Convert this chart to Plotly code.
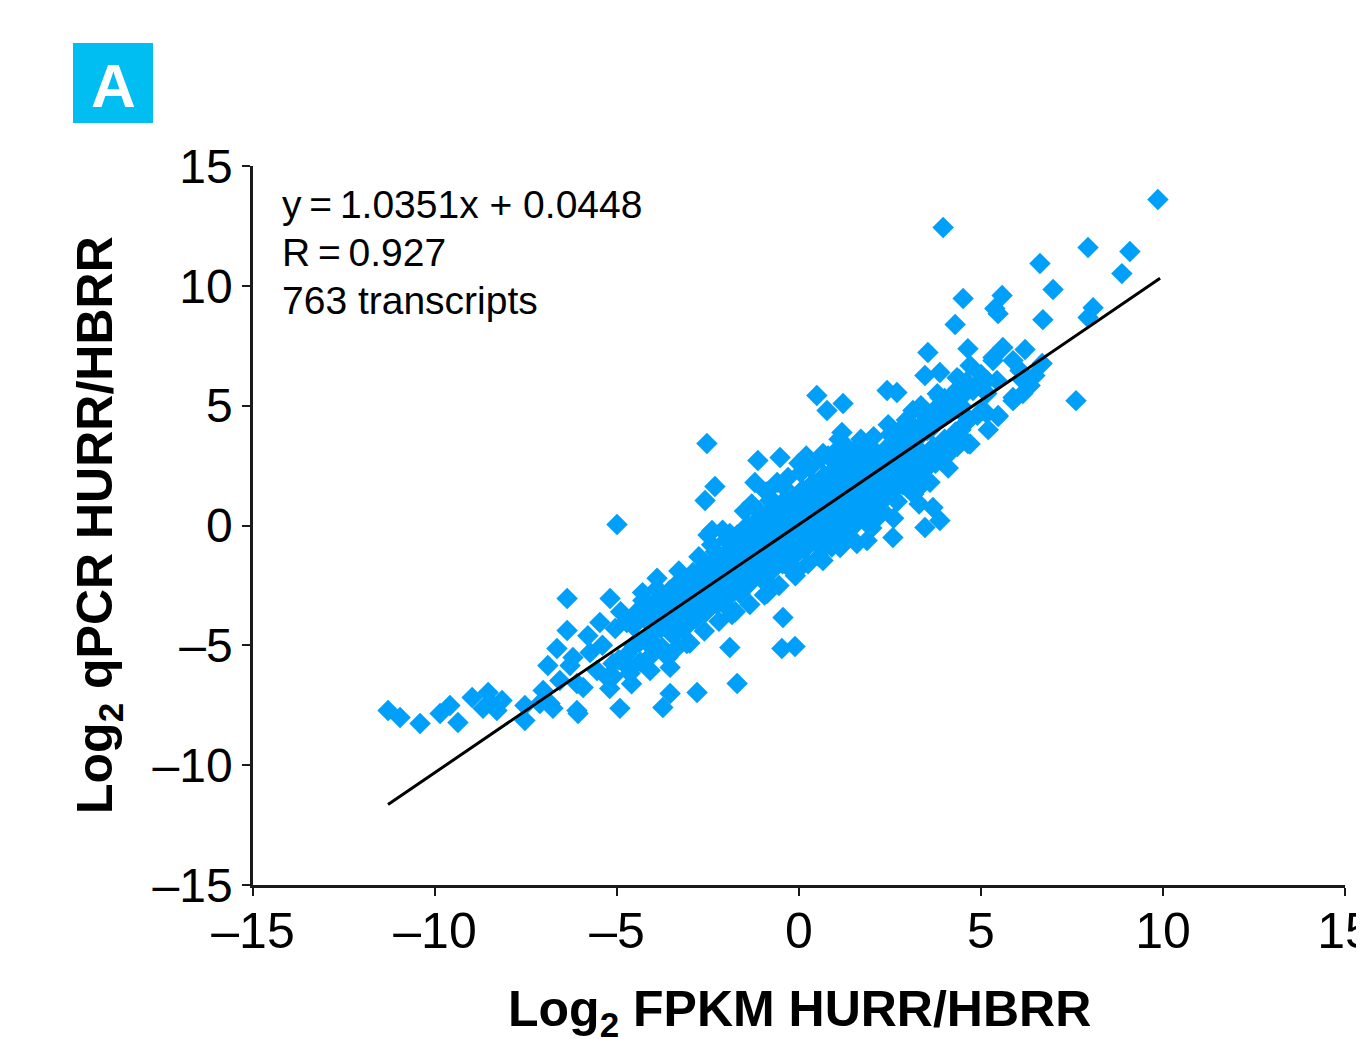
import plotly.graph_objects as go

# ---- data ----
outlier_x = [-11.29, -10.96, -10.41, -9.86, -9.59, -9.37, -8.98, -8.54, -8.68, -8.16, -8.30, -8.49,
             -7.53, -7.53, -7.12, -7.03, -6.76, -6.37, -6.37, -6.65, -6.90, -6.29, -6.10, -6.07,
             -5.74, -5.55, -6.57, -6.84, -6.10, -5.93, -6.21, -5.47, -5.19, -5.00, -5.11, -5.27,
             -4.92, -4.73, -4.64, -4.29, -4.18, -4.09, -4.01, -3.90, -3.74, -3.54, -3.54, -3.35,
             -3.35, -3.27, -3.08, -2.91, -2.80, -2.72, -2.53, -2.31, -2.58, -2.39, -1.90, -1.90,
             -1.70, -2.09, -1.62, -1.21, -1.13, -0.52, -0.88, -0.44, -0.47, -0.11, 0.22, 0.49,
             0.77, 1.21, 1.18, 0.66, 1.21, 1.59, 1.13, 1.59, 0.66, -0.05, 1.87, 2.58,
             2.42, 2.69, 3.13, 3.54, 4.64, 5.60, 5.33, 4.70, 3.87, 3.46, 4.34, 5.16,
             5.88, 3.87, 4.78, 3.79, 5.16, 5.47, 4.62, 2.77, 3.52, 4.64, 3.87, 1.87,
             2.97, 1.40, 2.42, 3.41, 2.77, 1.68, 2.31, 3.68, 3.87, 3.46, 1.40, 3.96,
             4.29, 4.51, 9.86, 7.94, 9.09, 6.62, 8.87, 6.98, 5.58, 5.38, 5.47, 6.70,
             8.08, 7.94, 6.21, 5.33, 5.88, 6.68, 5.11, 5.44, 6.15, 6.15, 5.16, 5.88,
             7.61, 5.05, 5.47, 6.07, 6.35, 6.48, -1.35, -1.07, -0.80, -2.17, -1.84, -3.13]
outlier_y = [-7.72, -8.01, -8.26, -7.84, -7.51, -8.22, -7.18, -6.97, -7.63, -7.30, -7.72, -7.38,
             -7.51, -8.14, -7.43, -6.88, -7.63, -3.05, -4.38, -5.13, -5.84, -5.84, -6.59, -7.84,
             -5.30, -6.05, -6.47, -7.43, -7.72, -6.76, -5.51, -4.05, -3.05, 0.04, -5.76, -6.34,
             -7.63, -4.05, -6.17, -3.13, -4.88, -6.05, -3.67, -2.63, -7.59, -5.92, -7.01, -2.42,
             -5.09, -3.42, -4.92, -1.96, -6.97, -3.55, 3.42, 1.63, 1.04, -0.21, -0.33, -5.09,
             -6.59, -3.25, -2.84, 1.79, 2.71, 2.84, -2.84, -3.84, -5.13, -5.05, 2.59, 5.42,
             4.80, 5.09, 3.88, 3.00, 3.00, 3.25, -0.92, -0.75, -1.46, -1.88, -0.63, -0.50,
             5.63, 5.55, 4.80, 7.22, 7.38, 7.43, 7.01, 6.68, 6.38, 6.26, 6.17, 6.05,
             5.34, 5.34, 5.63, 4.92, 4.67, 4.55, 4.51, 3.96, 3.96, 3.42, 3.13, 3.25,
             3.00, 2.59, 2.29, 1.75, 1.88, 1.59, 1.04, 0.75, 0.21, -0.08, -0.50, 12.43,
             8.39, 9.47, 13.60, 11.60, 11.43, 10.93, 10.51, 9.85, 9.60, 9.05, 8.84, 8.59,
             9.09, 8.68, 7.34, 6.88, 6.88, 6.76, 6.05, 6.05, 6.05, 5.51, 5.51, 5.21,
             5.21, 4.80, 4.59, 6.47, 5.84, 6.26, -0.42, -1.96, 1.04, -1.88, -3.71, -3.96]

band_x = [-5.05, -4.95, -5.10, -4.75, -4.70, -4.65, -4.45, -4.40, -4.35, -4.15, -4.10, -4.05, -4.20,
          -3.85, -3.80, -3.75, -3.90, -3.55, -3.50, -3.45, -3.60, -3.25, -3.20, -3.15, -3.30, -3.10,
          -2.95, -2.90, -2.85, -3.00, -2.80, -2.65, -2.60, -2.55, -2.70, -2.50,
          -2.35, -2.30, -2.25, -2.40, -2.20, -2.30, -2.05, -2.00, -1.95, -2.10, -1.90, -2.00,
          -1.75, -1.70, -1.65, -1.80, -1.60, -1.70, -1.45, -1.40, -1.35, -1.50, -1.30, -1.40,
          -1.15, -1.10, -1.05, -1.20, -1.00, -1.10, -0.85, -0.80, -0.75, -0.90, -0.70, -0.80, -0.85,
          -0.55, -0.50, -0.45, -0.60, -0.40, -0.50, -0.25, -0.20, -0.15, -0.30, -0.10, -0.20, -0.25,
          0.05, 0.10, 0.15, 0.00, 0.20, 0.10, 0.05, 0.35, 0.40, 0.45, 0.30, 0.50, 0.40,
          0.65, 0.70, 0.75, 0.60, 0.80, 0.70, 0.65, 0.95, 1.00, 1.05, 0.90, 1.10, 1.00,
          1.25, 1.30, 1.35, 1.20, 1.40, 1.30, 1.25, 1.55, 1.60, 1.65, 1.50, 1.70, 1.60,
          1.85, 1.90, 1.95, 1.80, 2.00, 1.90, 2.15, 2.20, 2.25, 2.10, 2.30, 2.20,
          2.45, 2.50, 2.55, 2.40, 2.60, 2.50, 2.75, 2.80, 2.85, 2.70, 2.90, 2.80,
          3.05, 3.10, 3.15, 3.00, 3.20, 3.35, 3.40, 3.45, 3.30, 3.40,
          3.65, 3.70, 3.75, 3.60, 3.95, 4.00, 4.05, 4.00, 4.25, 4.30, 4.35, 4.30,
          4.55, 4.60, 4.60, 4.85, 4.90,
          -3.90, -3.60, -3.30, -3.00, -2.75, -2.60, -2.40, -2.20, -1.90, -1.75, -1.55, -1.35,
          -1.10, -0.95, -0.70, -0.55, -0.35, -0.10, 0.00, 0.25, 0.30, 0.55, 0.60, 0.90,
          0.95, 1.15, 1.30, 1.45, 1.70, 1.80, 2.05, 2.30, 2.45, 2.70, 2.95, 3.15,
          3.35, 3.60, 3.80, 4.10, 4.40, 4.70, 5.00, 5.20, -0.60, 0.20, 1.10, -1.30,
          -2.10, 2.00, 2.60, 3.30, -4.30, -4.60, -5.40, -5.80, -5.20, -4.90,
          -4.55, -4.55, -4.00, -4.00, -3.40, -3.40, -2.85, -2.85, -2.45, -2.45, -2.15, -2.15,
          -1.85, -1.85, -1.55, -1.55, -1.25, -1.25, -0.95, -0.95, -0.65, -0.65, -0.35, -0.35,
          -0.05, -0.05, 0.25, 0.25, 0.55, 0.55, 0.85, 0.85, 1.15, 1.15, 1.45, 1.45,
          1.75, 1.75, 2.05, 2.05, 2.35, 2.35, 2.65, 2.65, 2.95, 2.95, 3.25, 3.25,
          3.55, 3.55, 3.85, 3.85, 4.15, 4.15, 4.45, 4.45,
          -0.90, -0.30, 0.35, 0.80, -1.50, -2.50]
band_y = [-4.3, -5.6, -6.3, -4.0, -5.35, -6.0, -3.6, -4.9, -5.7, -3.3, -4.6, -5.4, -3.95,
          -3.0, -4.3, -5.1, -3.6, -2.7, -3.9, -4.6, -3.3, -2.4, -3.6, -4.3, -2.9, -3.2,
          -2.1, -3.3, -3.9, -2.6, -3.0, -1.8, -3.0, -3.6, -2.3, -2.7,
          -1.5, -2.7, -3.3, -2.0, -2.4, -1.1, -1.2, -2.4, -3.0, -1.7, -2.1, -0.6,
          -0.9, -2.1, -2.7, -1.4, -1.8, -0.4, -0.6, -1.8, -2.4, -1.1, -1.5, 0.0,
          -0.3, -1.5, -2.2, -0.8, -1.2, 0.3, 0.0, -1.2, -1.9, -0.5, -0.9, 0.6, -2.4,
          0.3, -0.9, -1.6, -0.2, -0.6, 0.9, 0.6, -0.6, -1.3, 0.1, -0.3, 1.2, -1.8,
          0.9, -0.3, -1.0, 0.4, 0.0, 1.5, 2.2, 1.2, 0.0, -0.7, 0.7, 0.3, 1.8,
          1.5, 0.3, -0.4, 1.0, 0.6, 2.1, -1.0, 1.8, 0.6, -0.1, 1.3, 0.9, 2.4,
          2.1, 0.9, 0.2, 1.6, 1.2, 2.7, -0.4, 2.4, 1.2, 0.5, 1.9, 1.5, 3.0,
          2.7, 1.5, 0.8, 2.2, 1.8, 3.3, 3.0, 1.8, 1.1, 2.5, 2.1, 0.4,
          3.3, 2.1, 1.4, 2.8, 2.4, 3.8, 3.6, 2.4, 1.7, 3.1, 2.7, 4.0,
          3.9, 2.7, 2.0, 3.4, 3.0, 4.2, 3.0, 2.3, 3.7, 4.7,
          4.5, 3.3, 2.6, 4.0, 4.8, 3.6, 2.9, 5.3, 5.1, 3.9, 3.3, 5.6,
          5.5, 4.3, 6.0, 5.8, 4.6,
          -2.2, -5.5, -1.9, -4.9, -1.3, -4.4, -0.8, -4.0, -0.5, -3.6, -0.2, -3.3,
          0.6, -2.9, 1.0, -2.5, 1.5, -2.1, 2.6, -1.6, 2.4, -1.3, 2.8, -0.9,
          3.0, -0.6, 3.3, -0.1, 3.6, 0.2, 3.7, 0.6, 4.2, 1.0, 4.4, 1.3,
          5.0, 1.8, 5.5, 2.4, 6.1, 3.4, 6.3, 4.0, 1.8, 2.9, 3.6, 0.9,
          -0.2, -0.1, 0.3, 0.9, -2.8, -6.6, -5.0, -4.6, -6.8, -3.6,
          -4.2, -5.0, -3.7, -4.9, -3.0, -4.0, -2.4, -3.5, -2.0, -3.1, -1.7, -2.8,
          -1.3, -2.5, -1.0, -2.2, -0.7, -1.9, -0.4, -1.6, -0.1, -1.3, 0.2, -1.0,
          0.5, -0.7, 0.8, -0.4, 1.1, -0.1, 1.4, 0.2, 1.7, 0.5, 2.0, 0.8,
          2.3, 1.1, 2.6, 1.4, 2.9, 1.7, 3.2, 2.0, 3.5, 2.3, 3.8, 2.6,
          4.2, 3.0, 4.4, 3.2, 4.7, 3.6, 5.0, 4.0,
          1.4, 2.0, 2.6, 2.9, 0.6, -0.4]

fit_slope = 1.0351
fit_intercept = 0.0448
fit_x_range = [-11.29, 9.92]

tick_vals = [-15, -10, -5, 0, 5, 10, 15]
tick_text = ["\u201315", "\u201310", "\u20135", "0", "5", "10", "15"]

stats_lines = ["y\u2009=\u20091.0351x + 0.0448", "R\u2009=\u20090.927", "763 transcripts"]
x_title = "<b>Log<sub>2</sub> FPKM HURR/HBRR</b>"
y_title = "<b>Log<sub>2</sub> qPCR HURR/HBRR</b>"
panel_label = "<b>A</b>"

FONT = "Liberation Sans Narrow, Arial Narrow, Liberation Sans, sans-serif"
BLUE = "#00A0FA"

# page body has an 8px default margin: target page pixels -> figure pixels
OFF = 8
L, R, T, B = 253 - OFF, 1345 - OFF, 166 - OFF, 885 - OFF
W, H = R - L, B - T


def px(xp):
    return (xp - OFF - L) / W


def py(yp):
    return (B - (yp - OFF)) / H


fig = go.Figure()
fig.add_trace(go.Scatter(
    x=outlier_x + band_x, y=outlier_y + band_y, mode="markers",
    marker=dict(symbol="diamond", size=16.5, color=BLUE, line=dict(width=0)),
    hoverinfo="skip", showlegend=False))

fit_y = [fit_slope * v + fit_intercept for v in fit_x_range]
fig.add_trace(go.Scatter(x=fit_x_range, y=fit_y, mode="lines",
                         line=dict(color="black", width=3), showlegend=False))

axis_common = dict(range=[-15, 15], tickvals=tick_vals, ticktext=tick_text,
                   showgrid=False, zeroline=False, showline=True, linecolor="#1a1a1a",
                   ticks="outside", ticklen=8, tickwidth=2, tickcolor="#1a1a1a",
                   automargin=False, ticklabeloverflow="allow")

fig.update_layout(
    width=1364, height=1039,
    margin=dict(l=L, r=1364 - R, t=T, b=1039 - B),
    plot_bgcolor="white", paper_bgcolor="white",
    xaxis=dict(**axis_common, linewidth=3, ticklabelstandoff=-8,
               tickfont=dict(family=FONT, size=50, color="black")),
    yaxis=dict(**axis_common, linewidth=2.5,
               tickfont=dict(family=FONT, size=48, color="black")),
)

for line_text, yc in zip(stats_lines, [204, 252, 300]):
    fig.add_annotation(text=line_text, xref="paper", yref="paper",
                       x=px(280), y=py(yc), xanchor="left", yanchor="middle",
                       showarrow=False, align="left",
                       font=dict(family=FONT, size=39, color="black"))

fig.add_annotation(text=x_title, xref="paper", yref="paper", x=px(799), y=py(1012),
                   xanchor="center", yanchor="middle", showarrow=False,
                   font=dict(family=FONT, size=50, color="black"))
fig.add_annotation(text=y_title, xref="paper", yref="paper", x=px(98), y=py(525),
                   xanchor="center", yanchor="middle", showarrow=False, textangle=-90,
                   font=dict(family=FONT, size=50, color="black"))

# panel label
fig.add_shape(type="rect", xref="paper", yref="paper",
              x0=px(73), x1=px(153), y0=py(123), y1=py(43),
              fillcolor="#00BEF2", line=dict(width=0), layer="below")
fig.add_annotation(text=panel_label, xref="paper", yref="paper",
                   x=px(113), y=py(85), xanchor="center", yanchor="middle", showarrow=False,
                   font=dict(family="Liberation Sans, Arial, sans-serif", size=62, color="white"))

fig.write_html("out.html")
